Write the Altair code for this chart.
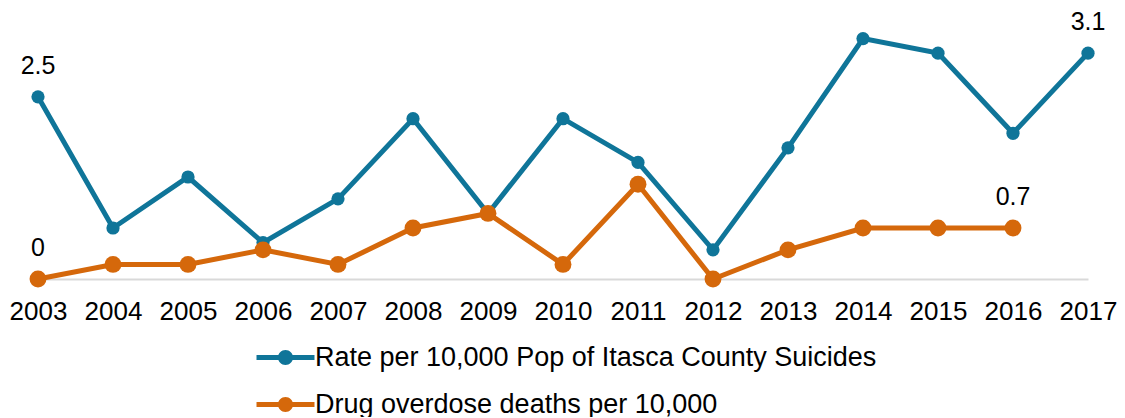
import altair as alt
import pandas as pd

years = list(range(2003, 2018))
suicide_rate = [2.5, 0.7, 1.4, 0.5, 1.1, 2.2, 0.9, 2.2, 1.6, 0.4, 1.8, 3.3, 3.1, 2.0, 3.1]
overdose_rate = [0, 0.2, 0.2, 0.4, 0.2, 0.7, 0.9, 0.2, 1.3, 0, 0.4, 0.7, 0.7, 0.7, None]
series_names = ["Rate per 10,000 Pop of Itasca County Suicides", "Drug overdose deaths per 10,000"]
colors = ["#0f7599", "#d5680b"]
labeled_years = [[2003, 2017], [2003, 2016]]

rows = []
for si, (name, vals) in enumerate(zip(series_names, [suicide_rate, overdose_rate])):
    for y, v in zip(years, vals):
        if v is None:
            continue
        rows.append({"year": str(y), "value": v, "series": name, "order": si,
                     "label": f"{v:g}" if y in labeled_years[si] else ""})
df = pd.DataFrame(rows)

FONT = "Liberation Sans"
sym_path = ("M-2.5,-0.216L2.5,-0.216L2.5,0.216L-2.5,0.216Z"
            "M-0.647,0A0.647,0.647,0,1,1,0.647,0A0.647,0.647,0,1,1,-0.647,0Z")

x = alt.X("year:O", scale=alt.Scale(type="point", padding=0),
          axis=alt.Axis(title=None, labelAngle=0, ticks=False, labelFontSize=26,
                        labelFont=FONT, labelColor="#000000", labelPadding=19,
                        domainColor="#d9d9d9", domainWidth=2, grid=False))
y = alt.Y("value:Q", scale=alt.Scale(domain=[0, 3.5], nice=False), axis=None)
color = alt.Color("series:N", scale=alt.Scale(domain=series_names, range=colors),
                  legend=alt.Legend(title=None, orient="none", legendX=234, legendY=320,
                                    direction="vertical", symbolType=sym_path, symbolSize=538,
                                    symbolStrokeWidth=0, labelFontSize=27, labelFont=FONT,
                                    labelColor="#000000", labelOffset=16,
                                    padding=0, labelLimit=800))

base = alt.Chart(df)
lines = base.mark_line(strokeWidth=5).encode(x=x, y=y, color=color, detail="series:N",
                                            order="year:O")
points = base.mark_point(filled=True, opacity=1).encode(
    x=x, y=y, color=color,
    size=alt.Size("order:N", scale=alt.Scale(domain=[0, 1], range=[175, 285]), legend=None),
    order="order:Q")
labels = base.transform_filter("datum.label != ''").mark_text(
    fontSize=25, font=FONT, color="#000000", dy=-31, baseline="middle").encode(
    x=x, y=y, text="label:N")

chart = alt.layer(lines, points, labels).properties(
    width=1050, height=255,
    autosize=alt.AutoSizeParams(type="none"),
    padding={"left": 30, "top": 16, "right": 29, "bottom": 138},
).configure_view(stroke=None).configure_legend(rowPadding=19)

chart.save("out.html", embed_options={"renderer": "svg", "actions": False})
